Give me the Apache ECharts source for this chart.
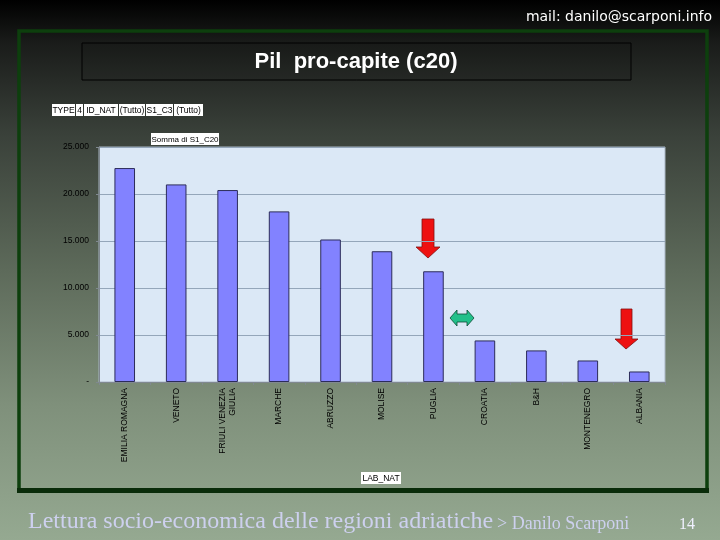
<!DOCTYPE html>
<html>
<head>
<meta charset="utf-8">
<script src="https://cdn.jsdelivr.net/npm/echarts@6/dist/echarts.min.js"></script>
<style>
  html, body { margin: 0; padding: 0; }
  #chart { width: 720px; height: 540px; }
</style>
</head>
<body>
<div id="chart"></div>
<script>
// dati (Pil pro-capite, c20)
const regioni = ['EMILIA ROMAGNA', 'VENETO', 'FRIULI VENEZIA\nGIULIA', 'MARCHE', 'ABRUZZO',
  'MOLISE', 'PUGLIA', 'CROATIA', 'B&H', 'MONTENEGRO', 'ALBANIA']
const pilProCapite = [22760, 21020, 20420, 18150, 15160, 13910, 11780, 4420, 3360, 2290, 1120]
const yTicks = [0, 5000, 10000, 15000, 20000, 25000]

// campi pivot in alto
const campiPivot = [
  { t: 'TYPE', w: 23 }, { t: '4', w: 7 }, { t: 'ID_NAT', w: 34 },
  { t: '(Tutto)', w: 26 }, { t: 'S1_C3', w: 27 }, { t: '(Tutto)', w: 29 }
]

const chart = echarts.init(document.getElementById('chart'))

const fmt = v => v === 0 ? '-' : v.toLocaleString('it-IT').replace(/,/g, '.')

function cella(text, x, y, w, size) {
  return {
    type: 'group', x: x, y: y,
    children: [
      { type: 'rect', shape: { x: 0, y: 0, width: w, height: 12 }, style: { fill: '#fff' } },
      { type: 'text', style: { text: text, x: w / 2, y: 6.5, align: 'center', verticalAlign: 'middle',
        font: (size || 8.5) + 'px "Liberation Sans", Arial', fill: '#000' } }
    ]
  }
}

let px = 52
const celle = campiPivot.map(c => {
  const g = cella(c.t, px, 104, c.w)
  px += c.w + 1
  return g
})

const option = {
  animation: false,
  backgroundColor: {
    type: 'linear', x: 0, y: 0, x2: 0, y2: 1,
    colorStops: [
      { offset: 0, color: '#000000' },
      { offset: 0.08, color: '#1a1c1a' },
      { offset: 0.25, color: '#3a413a' },
      { offset: 0.5, color: '#5d6a5a' },
      { offset: 0.75, color: '#7f907b' },
      { offset: 1, color: '#95a991' }
    ]
  },
  grid: {
    left: 99, right: 55, top: 147, bottom: 158,
    show: true, backgroundColor: '#dbe8f6', borderColor: '#a9b6c4', borderWidth: 1
  },
  xAxis: {
    type: 'category',
    data: regioni,
    axisLine: { lineStyle: { color: '#808890' } },
    axisTick: { show: true, length: 3, lineStyle: { color: '#808890' } },
    axisLabel: {
      rotate: 90, margin: 6, interval: 0,
      fontFamily: '"Liberation Sans", Arial', fontSize: 8.5, color: '#000', lineHeight: 10
    }
  },
  yAxis: {
    type: 'value',
    min: 0, max: 25000, interval: 5000,
    axisLine: { show: true, lineStyle: { color: '#808890' } },
    axisTick: { show: true, length: 3, lineStyle: { color: '#808890' } },
    splitLine: { lineStyle: { color: '#94a6ba', width: 1 } },
    axisLabel: {
      margin: 10, fontFamily: '"Liberation Sans", Arial', fontSize: 8.5, color: '#000',
      formatter: v => yTicks.includes(v) ? fmt(v) : ''
    }
  },
  series: [{
    type: 'bar',
    data: pilProCapite,
    barWidth: '40%',
    itemStyle: { color: '#8282ff', borderColor: '#2c2c5a', borderWidth: 1 }
  }],
  graphic: [
    // cornice verde
    { type: 'rect', shape: { x: 19, y: 31, width: 688, height: 460 },
      style: { fill: 'none', stroke: '#0d3f0d', lineWidth: 3.5 } },
    { type: 'rect', shape: { x: 17, y: 488, width: 692, height: 5 }, style: { fill: '#0a2c0a' } },
    // titolo
    { type: 'rect', shape: { x: 82, y: 43, width: 549, height: 37 },
      style: { fill: 'rgba(0,0,0,0.05)', stroke: '#000', lineWidth: 1 } },
    { type: 'text', style: { text: 'Pil  pro-capite (c20)', x: 356, y: 62, align: 'center', verticalAlign: 'middle',
      font: 'bold 22px "Liberation Sans", Arial', fill: '#fff' } },
    { type: 'text', style: { text: 'mail: danilo@scarponi.info', x: 712, y: 17, align: 'right', verticalAlign: 'middle',
      font: '14px "DejaVu Sans", sans-serif', fill: '#fff' } },
    ...celle,
    cella('Somma di S1_C20', 151, 133, 68, 8),
    cella('LAB_NAT', 361, 472, 40),
    // frecce
    { type: 'polygon', shape: { points: [[422, 219], [434, 219], [434, 247], [440, 247], [428, 258], [416, 247], [422, 247]] },
      style: { fill: '#ee1111', stroke: '#801010', lineWidth: 0.8 } },
    { type: 'polygon', shape: { points: [[621, 309], [632, 309], [632, 339], [638, 339], [626, 349], [615, 339], [621, 339]] },
      style: { fill: '#ee1111', stroke: '#801010', lineWidth: 0.8 } },
    { type: 'polygon', shape: { points: [[450, 318], [457, 310], [457, 314], [467, 314], [467, 310], [474, 318], [467, 326], [467, 322], [457, 322], [457, 326]] },
      style: { fill: '#22c08a', stroke: '#0d4a35', lineWidth: 0.8 } },
    // piè di pagina
    { type: 'text', style: { text: 'Lettura socio-economica delle regioni adriatiche', x: 28, y: 522, verticalAlign: 'middle',
      font: '24px "Liberation Serif", "Times New Roman", serif', fill: '#cdd0ee' } },
    { type: 'text', style: { text: '> Danilo Scarponi', x: 497, y: 524, verticalAlign: 'middle',
      font: '18px "Liberation Serif", "Times New Roman", serif', fill: '#cdd0ee' } },
    { type: 'text', style: { text: '14', x: 679, y: 525, verticalAlign: 'middle',
      font: '16px "Liberation Serif", "Times New Roman", serif', fill: '#f0f0ff' } }
  ]
}

chart.setOption(option)
</script>
</body>
</html>
